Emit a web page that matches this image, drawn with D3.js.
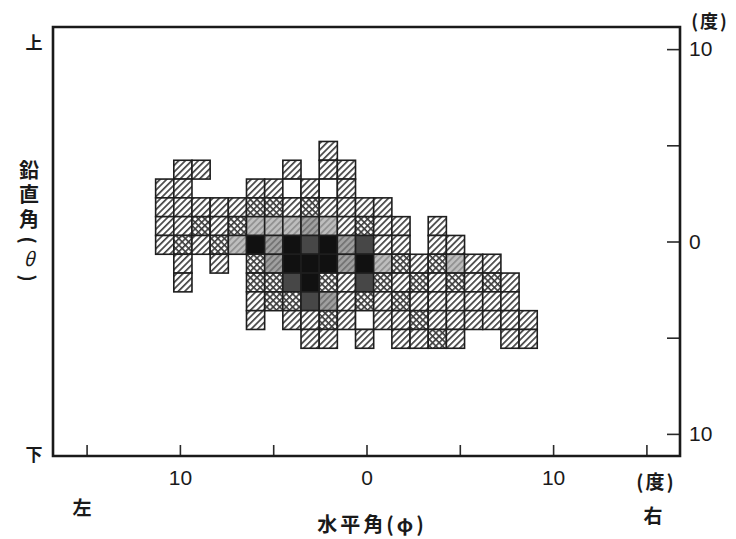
<!DOCTYPE html>
<html>
<head>
<meta charset="utf-8">
<script src="https://cdn.jsdelivr.net/npm/d3@7"></script>
<style>
  body { margin: 0; background: #fff; }
  text { fill: #1a1a1a; }
  .cjk { font-family: "Noto Sans CJK JP", sans-serif; font-weight: 700; }
  .num { font-family: "Liberation Sans", sans-serif; }
</style>
</head>
<body>
<svg width="736" height="539"></svg>
<script>
// horizontal angle φ (left = negative), vertical angle θ (up = positive)
const phi = [-11, -10, -9, -8, -7, -6, -5, -4, -3, -2, -1, 0, 1, 2, 3, 4, 5, 6, 7, 8, 9]
const theta = [5, 4, 3, 2, 1, 0, -1, -2, -3, -4, -5]

// shading class per cell: 0 empty box, 1 hatch, 2 cross, 3 light gray, 4 gray, 5 dark, 6 black
const _ = null
const level = [
  [_, _, _, _, _, _, _, _, _, 1, _, _, _, _, _, _, _, _, _, _, _],
  [_, 1, 1, _, _, _, _, 1, _, 1, 1, _, _, _, _, _, _, _, _, _, _],
  [1, 1, _, _, _, 1, 1, 0, 1, 0, 1, _, _, _, _, _, _, _, _, _, _],
  [1, 1, 1, 1, 1, 2, 2, 1, 2, 1, 1, 1, 1, _, _, _, _, _, _, _, _],
  [1, 1, 2, 1, 2, 3, 3, 3, 4, 3, 1, 2, 1, 1, _, 1, _, _, _, _, _],
  [1, 2, 1, 2, 3, 6, 4, 6, 5, 6, 4, 5, 1, 1, _, 1, 1, _, _, _, _],
  [_, 1, _, 1, _, 2, 4, 6, 6, 6, 4, 6, 3, 2, 1, 2, 3, 1, 1, _, _],
  [_, 1, _, _, _, 2, 2, 5, 6, 2, 1, 5, 2, 1, 2, 1, 2, 1, 2, 1, _],
  [_, _, _, _, _, 1, 2, 2, 5, 4, 1, 2, 1, 2, 1, 1, 1, 1, 1, 1, _],
  [_, _, _, _, _, 1, _, 1, 1, 2, 1, 0, 1, 1, 2, 1, 1, 1, 1, 1, 1],
  [_, _, _, _, _, _, _, _, 1, 1, _, 1, _, 1, 1, 2, 1, _, _, 1, 1]
]

const xTicks = [-15, -10, -5, 0, 5, 10, 15]
const yTicks = [10, 5, 0, -5, -10]
const labelled = [-10, 0, 10]

const svg = d3.select('svg')

const x = d3.scaleLinear().domain([-16.8, 16.8]).range([53, 680])
const y = d3.scaleLinear().domain([11.15, -11.15]).range([27, 456])

// the drawn boxes run a little narrower than the tick spacing
const xCell = d3.scaleBand().domain(phi).range([x(-11.3), x(9.15)])
const yCell = d3.scaleBand().domain(theta).range([y(5.2), y(-5.55)])

// patterns
const defs = svg.append('defs')
defs.append('pattern')
  .attr('id', 'hatch')
  .attr('patternUnits', 'userSpaceOnUse')
  .attr('width', 4.6).attr('height', 4.6)
  .attr('patternTransform', 'rotate(45)')
  .call(p => {
    p.append('rect').attr('width', 4.6).attr('height', 4.6).attr('fill', '#fff')
    p.append('rect').attr('width', 1.7).attr('height', 4.6).attr('fill', '#444')
  })
defs.append('pattern')
  .attr('id', 'cross')
  .attr('patternUnits', 'userSpaceOnUse')
  .attr('width', 4.6).attr('height', 4.6)
  .attr('patternTransform', 'rotate(45)')
  .call(p => {
    p.append('rect').attr('width', 4.6).attr('height', 4.6).attr('fill', '#fff')
    p.append('rect').attr('width', 1.6).attr('height', 4.6).attr('fill', '#3a3a3a')
    p.append('rect').attr('width', 4.6).attr('height', 1.6).attr('fill', '#3a3a3a')
  })

const fills = ['#fff', 'url(#hatch)', 'url(#cross)', '#a8a8a8', '#808080', '#474747', '#111']

const cells = []
level.forEach((row, i) => row.forEach((v, j) => {
  if (v !== null) cells.push({ phi: phi[j], theta: theta[i], v })
}))

const grid = svg.append('g').attr('class', 'cells')
grid.selectAll('rect.cell')
  .data(cells)
  .join('rect')
  .attr('class', 'cell')
  .attr('x', d => xCell(d.phi))
  .attr('y', d => yCell(d.theta))
  .attr('width', xCell.bandwidth())
  .attr('height', yCell.bandwidth())
  .attr('fill', d => fills[d.v])
  .attr('stroke', '#1e1e1e')
  .attr('stroke-width', 1.6)

// light texture on the gray boxes
grid.selectAll('rect.tex')
  .data(cells.filter(d => d.v === 3 || d.v === 4))
  .join('rect')
  .attr('class', 'tex')
  .attr('x', d => xCell(d.phi) + 1)
  .attr('y', d => yCell(d.theta) + 1)
  .attr('width', xCell.bandwidth() - 2)
  .attr('height', yCell.bandwidth() - 2)
  .attr('fill', 'url(#hatch)')
  .attr('opacity', 0.25)

// axes
svg.append('g')
  .attr('transform', `translate(0,${y(-11.15)})`)
  .call(d3.axisBottom(x).tickValues(xTicks).tickSize(-11).tickPadding(14)
    .tickFormat(d => labelled.includes(d) ? Math.abs(d) : ''))
svg.append('g')
  .attr('transform', `translate(${x(16.8)},0)`)
  .call(d3.axisRight(y).tickValues(yTicks).tickSize(-13).tickPadding(9)
    .tickFormat(d => labelled.includes(d) ? Math.abs(d) : ''))

svg.selectAll('.domain').remove()
svg.selectAll('.tick line').attr('stroke', '#2a2a2a').attr('stroke-width', 1.6)
svg.selectAll('.tick text')
  .attr('class', 'num')
  .style('font-size', '21px')
  .attr('fill', '#1a1a1a')

// frame
svg.append('path')
  .attr('d', `M${x(-16.8)},${y(11.15)}H${x(16.8)}V${y(-11.15)}H${x(-16.8)}Z`)
  .attr('fill', 'none')
  .attr('stroke', '#1a1a1a')
  .attr('stroke-width', 2.6)

// labels
const lab = (t, px, py, size, extra) => svg.append('text')
  .attr('class', 'cjk')
  .attr('x', px).attr('y', py)
  .attr('text-anchor', 'middle')
  .attr('dominant-baseline', 'central')
  .style('font-size', size + 'px')
  .style('letter-spacing', (extra || 0) + 'px')
  .text(t)

lab('上', 34, 41, 17)
lab('下', 34, 453, 17)
lab('左', 82, 506, 19)
lab('右', 653, 514, 19)
lab('水平角(φ)', 372, 523, 20, 3)
lab('(度)', 656, 480, 19, 2)
lab('(度)', 710, 20, 18, 2)

// vertical axis title: kanji set top to bottom as one text
svg.append('text')
  .attr('class', 'cjk')
  .attr('x', 29).attr('y', 160)
  .style('writing-mode', 'vertical-rl')
  .style('font-size', '20px')
  .style('letter-spacing', '4.5px')
  .text('鉛直角')
lab('(', 29, 240, 19).attr('transform', 'rotate(90,29,240)')
lab('θ', 29, 257, 19).style('font-style', 'italic').style('font-weight', 400)
lab(')', 29, 278, 19).attr('transform', 'rotate(90,29,278)')
</script>
</body>
</html>
